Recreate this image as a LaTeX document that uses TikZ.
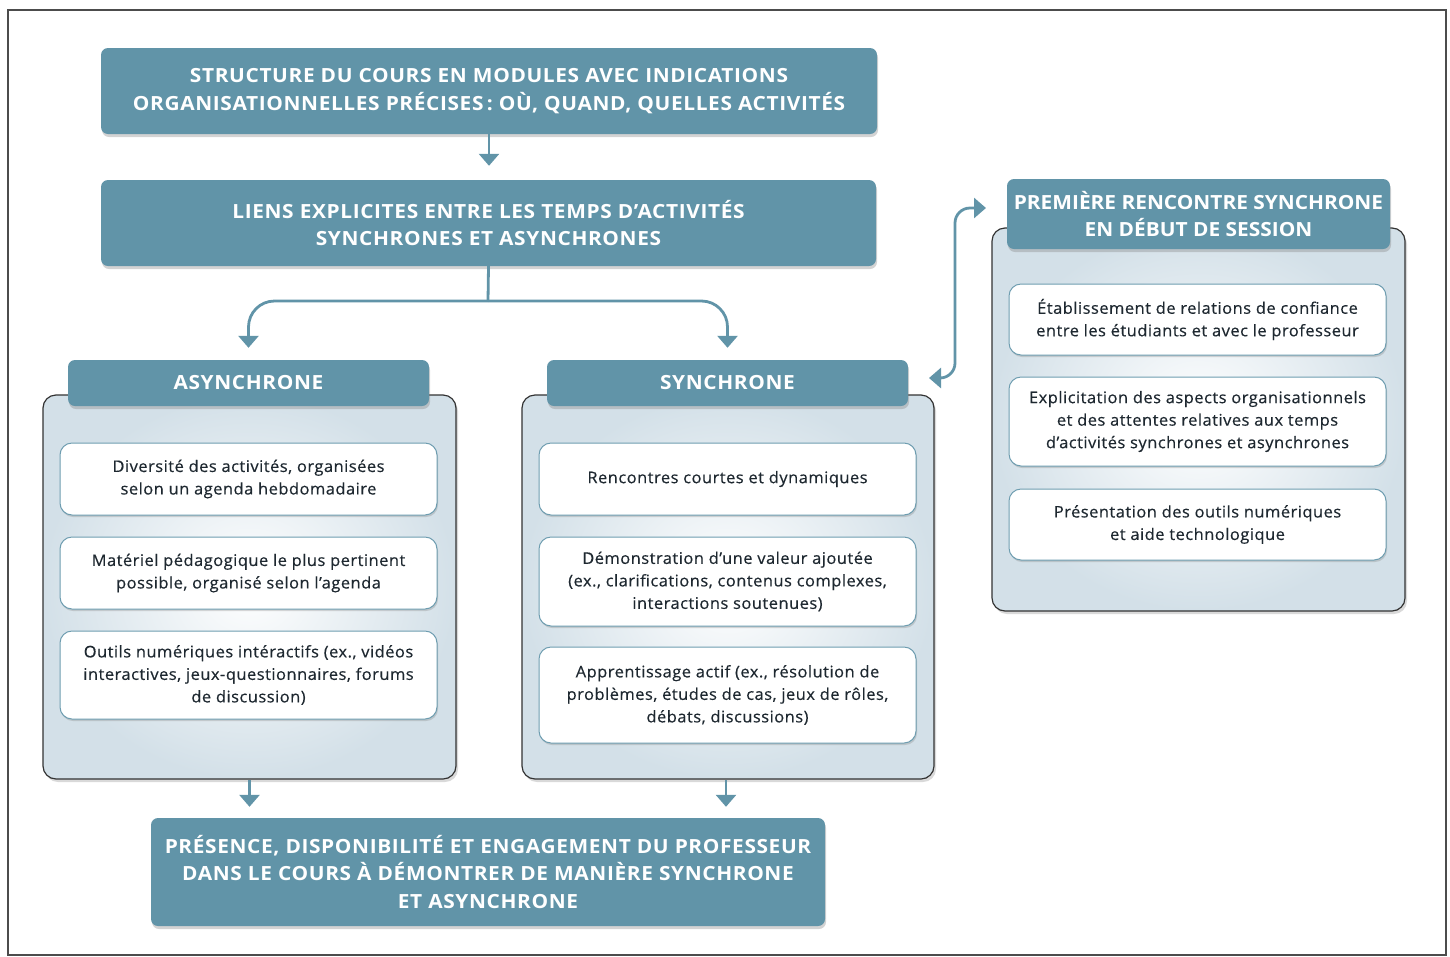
\documentclass[tikz,border=0pt]{standalone}
\usepackage{fontspec}
\setmainfont{Open Sans}
\newfontfamily\hdrfont[FakeStretch=1.07,LetterSpace=3.2]{Open Sans}
\newfontfamily\rhdrfont[FakeStretch=1.07]{Open Sans}
\newfontfamily\itemfont[FakeStretch=1.03,LetterSpace=3,FakeBold=0.4]{Open Sans}
\usetikzlibrary{shadows,arrows.meta}
\definecolor{teal1}{HTML}{6194A8}
\definecolor{ink}{HTML}{1E2830}
\definecolor{panelout}{HTML}{D3E0E8}
\definecolor{innerbd}{HTML}{6E9DB0}
\begin{document}
\begin{tikzpicture}[x=1pt,y=-1pt,
 hdr/.style={fill=teal1, rounded corners=7pt, text=white,
   font=\hdrfont\fontsize{19.5}{27.5}\selectfont\bfseries, align=center, inner sep=0pt,
   drop shadow={shadow xshift=1pt, shadow yshift=-3pt, opacity=0.35, fill=black!50}},
 panel/.style={draw=black!80, line width=1.2pt, rounded corners=13pt, shading=radial,
   inner color=white, outer color=panelout, inner sep=0pt,
   drop shadow={shadow xshift=2pt, shadow yshift=-3pt, opacity=0.3, fill=black!50}},
 item/.style={draw=innerbd, line width=1pt, fill=white, rounded corners=12pt,
   font=\itemfont\fontsize{16}{22.5}\selectfont, text=ink, align=center, inner sep=0pt,
   drop shadow={shadow xshift=1pt, shadow yshift=-2pt, opacity=0.3, fill=black!50}},
 link/.style={draw=teal1, line width=2.8pt},
 arr/.style={link, -{Triangle[width=20pt,length=12pt]}},
 darr/.style={link, {Triangle[width=20pt,length=12pt]}-{Triangle[width=20pt,length=12pt]}},
]
\useasboundingbox (0,0) rectangle (1450,956);
\draw[line width=1.2pt, black!70] (8,10) rectangle (1446,955);

% top boxes
\node[hdr, minimum width=776pt, minimum height=86pt] (top) at (489,91)
  {STRUCTURE DU COURS EN MODULES AVEC INDICATIONS\\ORGANISATIONNELLES PRÉCISES\,: OÙ, QUAND, QUELLES ACTIVITÉS};
\node[hdr, minimum width=775pt, minimum height=86pt] (liens) at (488.5,223)
  {LIENS EXPLICITES ENTRE LES TEMPS D’ACTIVITÉS\\SYNCHRONES ET ASYNCHRONES};

% left panel
\node[panel, minimum width=413pt, minimum height=384pt] (apanel) at (249.5,587) {};
\node[hdr, minimum width=361pt, minimum height=46pt] (ahdr) at (248.5,383) {ASYNCHRONE};
\node[item, minimum width=377pt, minimum height=72pt] (a1) at (248.5,479)
  {Diversité des activités, organisées\\selon un agenda hebdomadaire};
\node[item, minimum width=377pt, minimum height=72pt] (a2) at (248.5,573)
  {Matériel pédagogique le plus pertinent\\possible, organisé selon l’agenda};
\node[item, minimum width=377pt, minimum height=88pt] (a3) at (248.5,675)
  {Outils numériques intéractifs (ex., vidéos\\interactives, jeux-questionnaires, forums\\de discussion)};

% middle panel
\node[panel, minimum width=412pt, minimum height=384pt] (spanel) at (728,587) {};
\node[hdr, minimum width=361pt, minimum height=46pt] (shdr) at (727.5,383) {SYNCHRONE};
\node[item, minimum width=377pt, minimum height=72pt] (s1) at (727.5,479)
  {Rencontres courtes et dynamiques};
\node[item, minimum width=377pt, minimum height=89pt] (s2) at (727.5,581.5)
  {Démonstration d’une valeur ajoutée\\(ex., clarifications, contenus complexes,\\interactions soutenues)};
\node[item, minimum width=377pt, minimum height=96pt] (s3) at (727.5,695)
  {Apprentissage actif (ex., résolution de\\problèmes, études de cas, jeux de rôles,\\débats, discussions)};

% right panel
\node[panel, minimum width=413pt, minimum height=383pt] (rpanel) at (1198.5,419.5) {};
\node[hdr, minimum width=383pt, minimum height=70pt, font=\rhdrfont\fontsize{19.5}{27.5}\selectfont\bfseries] (rhdr) at (1198.5,214)
  {PREMIÈRE RENCONTRE SYNCHRONE\\EN DÉBUT DE SESSION};
\node[item, minimum width=377pt, minimum height=71pt] (r1) at (1197.5,319.5)
  {Établissement de relations de confiance\\entre les étudiants et avec le professeur};
\node[item, minimum width=377pt, minimum height=89pt] (r2) at (1197.5,421.5)
  {Explicitation des aspects organisationnels\\et des attentes relatives aux temps\\d’activités synchrones et asynchrones};
\node[item, minimum width=377pt, minimum height=71pt] (r3) at (1197.5,524.5)
  {Présentation des outils numériques\\et aide technologique};

% bottom box
\node[hdr, minimum width=674pt, minimum height=108pt] (bottom) at (488,872)
  {PRÉSENCE, DISPONIBILITÉ ET ENGAGEMENT DU PROFESSEUR\\DANS LE COURS À DÉMONTRER DE MANIÈRE SYNCHRONE\\ET ASYNCHRONE};

% connectors
\draw[arr, shorten >=14pt] (top.south) -- (top.south |- liens.north);
\coordinate (fork) at (488,301);
\draw[link] (liens.south) -- (fork);
\draw[arr, rounded corners=26pt, shorten >=12pt] (fork) -| (ahdr.north);
\draw[arr, rounded corners=26pt, shorten >=12pt] (fork) -| (shdr.north);
\draw[arr, shorten >=11pt] (apanel.south) -- (apanel.south |- bottom.north);
\draw[arr, shorten >=11pt] ([xshift=-2pt]spanel.south) -- ([xshift=-2pt]spanel.south |- bottom.north);
\coordinate (d1) at (929,378);
\coordinate (d2) at (986,208);
\draw[darr, rounded corners=15pt] (d1) -| (955,290) |- (d2);
\end{tikzpicture}
\end{document}
